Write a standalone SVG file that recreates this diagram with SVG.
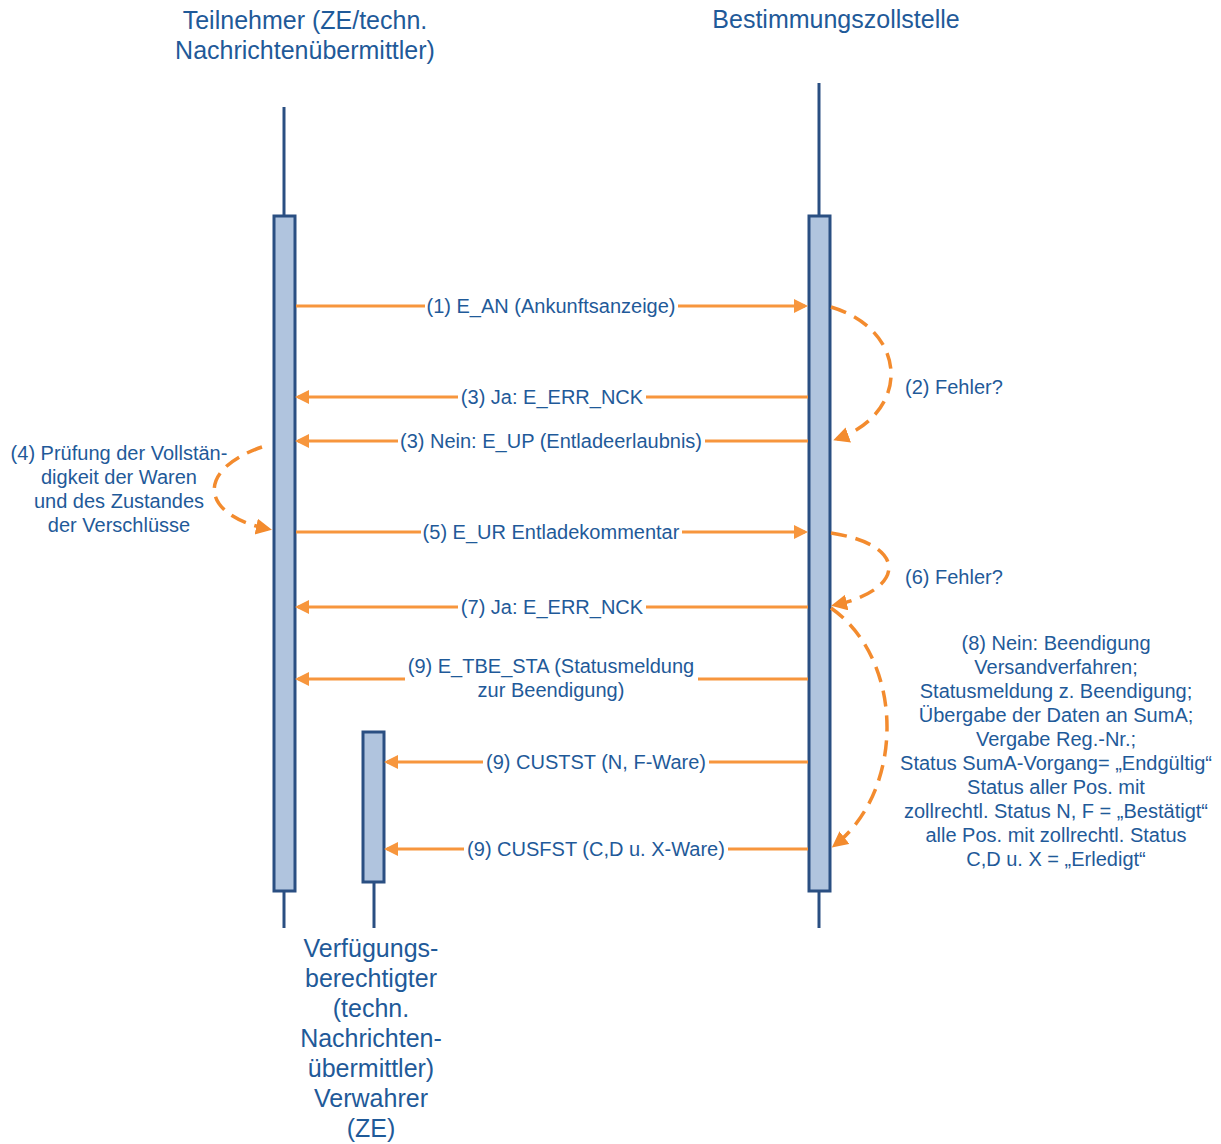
<svg xmlns="http://www.w3.org/2000/svg" width="1221" height="1144" viewBox="0 0 1221 1144">
<defs>
<style>
.t{font-family:"Liberation Sans",Arial,sans-serif;fill:#1F5A99;}
.title{font-size:25px;text-anchor:middle;}
.lbl{font-size:20px;}
.c{text-anchor:middle;}
.life{stroke:#2A4F82;stroke-width:3;fill:none;}
.bar{fill:#B0C4DE;stroke:#2A4F82;stroke-width:3;}
.msg{stroke:#F7963D;stroke-width:3;fill:none;}
.dash{stroke:#F38B2E;stroke-width:3.5;fill:none;stroke-dasharray:16 9;}
</style>
<marker id="ah" markerUnits="userSpaceOnUse" markerWidth="16" markerHeight="16" refX="11" refY="7" orient="auto">
<path d="M0,0 L14,7 L0,14 z" fill="#F7963D"/>
</marker>
<marker id="ahd" markerUnits="userSpaceOnUse" markerWidth="18" markerHeight="18" refX="12" refY="8" orient="auto">
<path d="M0,0 L16,8 L0,16 z" fill="#F38B2E"/>
</marker>
</defs>
<rect width="1221" height="1144" fill="#fff"/>

<g id="teilnehmer">
<text class="t title" x="305" y="29">Teilnehmer (ZE/techn.</text>
<text class="t title" x="305" y="59">Nachrichtenübermittler)</text>
<line class="life" x1="284" y1="107" x2="284" y2="216"/>
<line class="life" x1="284" y1="891" x2="284" y2="928"/>
<rect class="bar" x="274" y="216" width="21" height="675"/>
</g>

<g id="bestimmungszollstelle">
<text class="t title" x="836" y="28">Bestimmungszollstelle</text>
<line class="life" x1="819" y1="83" x2="819" y2="216"/>
<line class="life" x1="819" y1="891" x2="819" y2="928"/>
<rect class="bar" x="809" y="216" width="21" height="675"/>
</g>

<g id="verfuegungsberechtigter">
<line class="life" x1="374" y1="882" x2="374" y2="928"/>
<rect class="bar" x="363" y="732" width="21" height="150"/>
<text class="t title" x="371" y="957">Verfügungs-</text>
<text class="t title" x="371" y="987">berechtigter</text>
<text class="t title" x="371" y="1017">(techn.</text>
<text class="t title" x="371" y="1047">Nachrichten-</text>
<text class="t title" x="371" y="1077">übermittler)</text>
<text class="t title" x="371" y="1107">Verwahrer</text>
<text class="t title" x="371" y="1137">(ZE)</text>
</g>

<g id="connectors">
<line class="msg" x1="296" y1="306" x2="425" y2="306"/>
<line class="msg" x1="678" y1="306" x2="805" y2="306" marker-end="url(#ah)"/>

<line class="msg" x1="808" y1="397" x2="646" y2="397"/>
<line class="msg" x1="458" y1="397" x2="298" y2="397" marker-end="url(#ah)"/>

<line class="msg" x1="808" y1="441" x2="705" y2="441"/>
<line class="msg" x1="398" y1="441" x2="298" y2="441" marker-end="url(#ah)"/>

<line class="msg" x1="296" y1="532" x2="421" y2="532"/>
<line class="msg" x1="682" y1="532" x2="805" y2="532" marker-end="url(#ah)"/>

<line class="msg" x1="808" y1="607" x2="646" y2="607"/>
<line class="msg" x1="458" y1="607" x2="298" y2="607" marker-end="url(#ah)"/>

<line class="msg" x1="808" y1="679" x2="698" y2="679"/>
<line class="msg" x1="405" y1="679" x2="298" y2="679" marker-end="url(#ah)"/>

<line class="msg" x1="808" y1="762" x2="709" y2="762"/>
<line class="msg" x1="483" y1="762" x2="387" y2="762" marker-end="url(#ah)"/>

<line class="msg" x1="808" y1="849" x2="728" y2="849"/>
<line class="msg" x1="464" y1="849" x2="387" y2="849" marker-end="url(#ah)"/>

<path class="dash" d="M831,307 C908,330 912,412 837,439" marker-end="url(#ahd)"/>
<path class="dash" d="M262,447 C195,470 200,515 268,529" marker-end="url(#ahd)"/>
<path class="dash" d="M831,533 C910,545 905,590 835,605" marker-end="url(#ahd)"/>
<path class="dash" d="M831,608 C905,660 905,790 835,845" marker-end="url(#ahd)"/>
</g>

<g id="labels">
<text class="t lbl c" x="551" y="313">(1) E_AN (Ankunftsanzeige)</text>
<text class="t lbl c" x="552" y="404">(3) Ja: E_ERR_NCK</text>
<text class="t lbl c" x="551" y="448">(3) Nein: E_UP (Entladeerlaubnis)</text>
<text class="t lbl c" x="551" y="539">(5) E_UR Entladekommentar</text>
<text class="t lbl c" x="552" y="614">(7) Ja: E_ERR_NCK</text>
<text class="t lbl c" x="551" y="673">(9) E_TBE_STA (Statusmeldung</text>
<text class="t lbl c" x="551" y="697">zur Beendigung)</text>
<text class="t lbl c" x="596" y="769">(9) CUSTST (N, F-Ware)</text>
<text class="t lbl c" x="596" y="856">(9) CUSFST (C,D u. X-Ware)</text>

<text class="t lbl" x="905" y="394">(2) Fehler?</text>
<text class="t lbl" x="905" y="584">(6) Fehler?</text>

<text class="t lbl c" x="119" y="460">(4) Prüfung der Vollstän-</text>
<text class="t lbl c" x="119" y="484">digkeit der Waren</text>
<text class="t lbl c" x="119" y="508">und des Zustandes</text>
<text class="t lbl c" x="119" y="532">der Verschlüsse</text>

<text class="t lbl c" x="1056" y="650">(8) Nein: Beendigung</text>
<text class="t lbl c" x="1056" y="674">Versandverfahren;</text>
<text class="t lbl c" x="1056" y="698">Statusmeldung z. Beendigung;</text>
<text class="t lbl c" x="1056" y="722">Übergabe der Daten an SumA;</text>
<text class="t lbl c" x="1056" y="746">Vergabe Reg.-Nr.;</text>
<text class="t lbl c" x="1056" y="770">Status SumA-Vorgang= „Endgültig“</text>
<text class="t lbl c" x="1056" y="794">Status aller Pos. mit</text>
<text class="t lbl c" x="1056" y="818">zollrechtl. Status N, F = „Bestätigt“</text>
<text class="t lbl c" x="1056" y="842">alle Pos. mit zollrechtl. Status</text>
<text class="t lbl c" x="1056" y="866">C,D u. X = „Erledigt“</text>
</g>
</svg>
